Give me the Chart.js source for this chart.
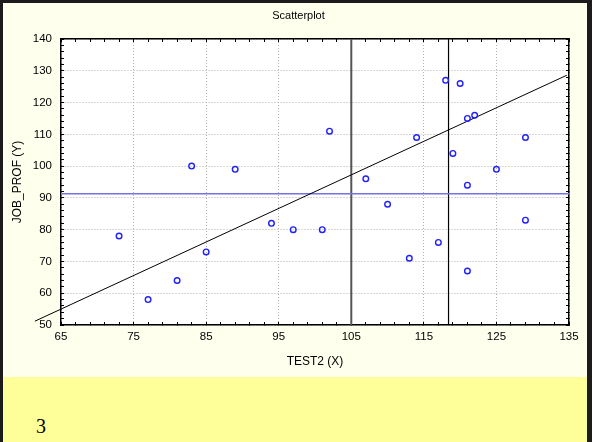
<!DOCTYPE html>
<html lang="en">
<head>
    <meta charset="UTF-8">
    <title>Scatterplot</title>
    <script src="https://cdn.jsdelivr.net/npm/chart.js@4.4.1/dist/chart.umd.min.js"></script>
    <style>
        body {
            margin: 0;
            padding: 0;
            background: #ffffff;
        }
        #frame {
            width: 584px;
            height: 439px;
            border-top: 3px solid #1c1c1c;
            border-left: 3px solid #1c1c1c;
            border-right: 5px solid #1c1c1c;
            background-color: #ffffee;
            overflow: hidden;
        }
        #chart-box {
            width: 584px;
            height: 374px;
        }
        #note {
            height: 65px;
            background-color: #ffff99;
            box-sizing: border-box;
            padding: 39px 0 0 33px;
            font-family: "Liberation Serif", "Times New Roman", serif;
            font-size: 20px;
            line-height: 20px;
            color: #000;
        }
    </style>
</head>
<body>
    <div id="frame">
        <div id="chart-box"><canvas id="chart" width="584" height="374"></canvas></div>
        <div id="note">3</div>
    </div>

    <script>
        const testX = [73, 77, 81, 83, 85, 89, 94, 97, 101, 102, 107, 110, 113,
                       114, 117, 118, 119, 120, 121, 121, 121, 122, 125, 129, 129];
        const jobY  = [78, 58, 64, 100, 73, 99, 82, 80, 80, 111, 96, 88, 71,
                       109, 76, 127, 104, 126, 115, 94, 67, 116, 99, 109, 83];

        // Fitted line end points (it runs a little past the left edge)
        const fitX = [61.4, 134.7];
        const fitY = [51.2, 128.6];

        // Horizontal blue line and the two vertical markers
        const meanY = 91.3;
        const markX = [105, 118.4];

        // Axis ranges and labelled ticks
        const xRange = [65, 135];
        const yRange = [50, 140];
        const xTickLabels = [65, 75, 85, 95, 105, 115, 125, 135];
        const yTickLabels = [50, 60, 70, 80, 90, 100, 110, 120, 130, 140];
        const minorStep = 2;

        // small tick marks every 2 units, labels only on the major ones
        function minorTicks(range) {
            const list = [];
            for (let v = range[0]; v <= range[1]; v += minorStep) list.push(v);
            return list;
        }
        const xMinor = minorTicks(xRange);
        const yMinor = minorTicks(yRange);

        const tickFont = { family: 'Arial, "Liberation Sans", sans-serif', size: 11.5 };
        const titleFont = { family: 'Arial, "Liberation Sans", sans-serif', size: 12 };

        // shared settings for the inward tick marks
        function tickGrid(major, onArea) {
            return {
                drawOnChartArea: onArea,
                drawTicks: true,
                tickLength: -3,
                tickColor: '#000',
                tickWidth: 1,
                lineWidth: 1,
                color: (ctx) => (ctx.tick && major.includes(ctx.tick.value)) ? '#b0b0b0' : 'rgba(0,0,0,0)'
            };
        }

        // white plotting area on the cream background
        const plotBackground = {
            id: 'plotBackground',
            beforeDraw(chart) {
                const { ctx, chartArea } = chart;
                ctx.save();
                ctx.fillStyle = '#ffffff';
                ctx.fillRect(chartArea.left, chartArea.top,
                             chartArea.right - chartArea.left, chartArea.bottom - chartArea.top);
                ctx.restore();
            }
        };

        const lineStyle = { showLine: true, pointRadius: 0, pointHoverRadius: 0, fill: false };

        new Chart(document.getElementById('chart'), {
            type: 'scatter',
            data: {
                datasets: [
                    {
                        label: 'JOB_PROF',
                        data: testX.map((x, i) => ({ x: x, y: jobY[i] })),
                        pointStyle: 'circle',
                        pointRadius: 2.8,
                        borderWidth: 1.4,
                        borderColor: '#2020ff',
                        backgroundColor: 'rgba(0,0,0,0)'
                    },
                    {
                        ...lineStyle,
                        label: 'fit',
                        data: fitX.map((x, i) => ({ x: x, y: fitY[i] })),
                        borderColor: '#000000',
                        borderWidth: 1,
                        clip: false
                    },
                    {
                        ...lineStyle,
                        label: 'mean',
                        data: xRange.map(x => ({ x: x, y: meanY })),
                        borderColor: '#7373e6',
                        borderWidth: 1.6
                    },
                    {
                        ...lineStyle,
                        label: 'mark1',
                        data: yRange.map(y => ({ x: markX[0], y: y })),
                        borderColor: '#555555',
                        borderWidth: 2
                    },
                    {
                        ...lineStyle,
                        label: 'mark2',
                        data: yRange.map(y => ({ x: markX[1], y: y })),
                        borderColor: '#000000',
                        borderWidth: 1.2
                    }
                ]
            },
            options: {
                responsive: false,
                animation: false,
                layout: { padding: { left: 7, right: 0, top: 0, bottom: 0 } },
                plugins: {
                    legend: { display: false },
                    tooltip: { enabled: false },
                    title: {
                        display: true,
                        text: 'Scatterplot',
                        color: '#000',
                        font: { family: 'Arial, "Liberation Sans", sans-serif', size: 11, weight: 'normal' },
                        padding: { top: 6.4, bottom: 16.4 }
                    }
                },
                scales: {
                    x: {
                        type: 'linear',
                        position: 'bottom',
                        min: xRange[0],
                        max: xRange[1],
                        afterBuildTicks: (scale) => { scale.ticks = xMinor.map(v => ({ value: v })); },
                        afterFit: (scale) => { scale.height = 52; },
                        ticks: {
                            autoSkip: false,
                            maxRotation: 0,
                            padding: 8,
                            color: '#000',
                            font: tickFont,
                            callback: (v) => xTickLabels.includes(v) ? String(v) : ''
                        },
                        grid: tickGrid(xTickLabels, true),
                        border: { display: true, color: '#000', width: 1.5, dash: [1, 2] },
                        title: {
                            display: true,
                            text: 'TEST2 (X)',
                            color: '#000',
                            font: titleFont,
                            padding: { top: 0, bottom: 7.8 }
                        }
                    },
                    y: {
                        type: 'linear',
                        position: 'left',
                        min: yRange[0],
                        max: yRange[1],
                        afterBuildTicks: (scale) => { scale.ticks = yMinor.map(v => ({ value: v })); },
                        afterFit: (scale) => { scale.width = 51; },
                        ticks: {
                            autoSkip: false,
                            padding: 12,
                            color: '#000',
                            font: tickFont,
                            callback: (v) => yTickLabels.includes(v) ? String(v) : ''
                        },
                        grid: tickGrid(yTickLabels, true),
                        border: { display: true, color: '#000', width: 1.5, dash: [1, 2] },
                        title: {
                            display: true,
                            text: 'JOB_PROF (Y)',
                            color: '#000',
                            font: titleFont,
                            padding: { top: 0, bottom: 0 }
                        }
                    },
                    // top and right frame with the same small tick marks
                    x2: {
                        type: 'linear',
                        position: 'top',
                        display: true,
                        min: xRange[0],
                        max: xRange[1],
                        afterBuildTicks: (scale) => { scale.ticks = xMinor.map(v => ({ value: v })); },
                        afterFit: (scale) => { scale.height = 0; },
                        ticks: { display: false, autoSkip: false },
                        grid: tickGrid([], false),
                        border: { display: true, color: '#000', width: 1.5 }
                    },
                    y2: {
                        type: 'linear',
                        position: 'right',
                        display: true,
                        min: yRange[0],
                        max: yRange[1],
                        afterBuildTicks: (scale) => { scale.ticks = yMinor.map(v => ({ value: v })); },
                        afterFit: (scale) => { scale.width = 18; },
                        ticks: { display: false, autoSkip: false },
                        grid: tickGrid([], false),
                        border: { display: true, color: '#000', width: 1.5 }
                    }
                }
            },
            plugins: [plotBackground]
        });
    </script>
</body>
</html>
